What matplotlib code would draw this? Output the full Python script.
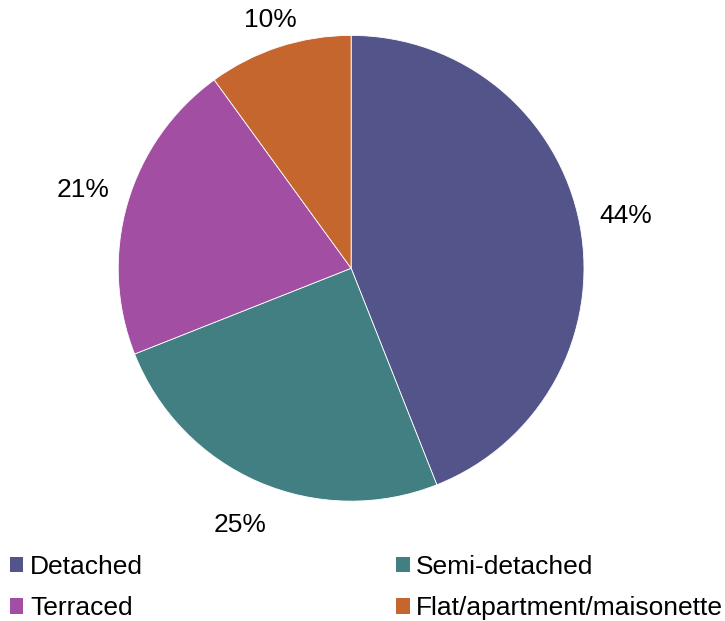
import numpy as np
import matplotlib.pyplot as plt
from matplotlib.patches import Patch

labels = ["Detached", "Semi-detached", "Terraced", "Flat/apartment/maisonette"]
shares = [44, 25, 21, 10]
colors = ["#53558A", "#427F83", "#A24EA2", "#C5662E"]
label_dist = [1.2, 1.2, 1.2, 1.12]

plt.rcParams["font.family"] = ["Liberation Sans", "DejaVu Sans"]

fig = plt.figure(figsize=(7.25, 6.21), dpi=100)
ax = fig.add_axes([0.1628, 0.193, 0.643, 0.750])

wedges, texts, autotexts = ax.pie(
    shares, colors=colors, startangle=90, counterclock=False,
    autopct="%1.0f%%", pctdistance=1.2,
    wedgeprops=dict(edgecolor="white", linewidth=0.6),
    textprops=dict(fontsize=19, color="black"),
)
# pull the small top label in a little so it stays inside the figure
for w, t, d in zip(wedges, autotexts, label_dist):
    mid = np.deg2rad((w.theta1 + w.theta2) / 2)
    t.set_position((d * np.cos(mid), d * np.sin(mid)))
ax.set_xlim(-1, 1)
ax.set_ylim(-1, 1)
ax.set_aspect("equal")

# legend fills column-first, so interleave to get rows Detached/Semi, Terraced/Flat
order = [0, 2, 1, 3]
handles = [Patch(facecolor=colors[i], edgecolor="none") for i in order]
fig.legend(handles, [labels[i] for i in order], loc="lower left",
           bbox_to_anchor=(-0.015, -0.033), ncol=2, frameon=False, fontsize=19,
           handlelength=0.5, handleheight=0.5, handletextpad=0.25,
           columnspacing=9.6, labelspacing=0.65, borderpad=0.3)

plt.savefig("out.png", dpi=100)
